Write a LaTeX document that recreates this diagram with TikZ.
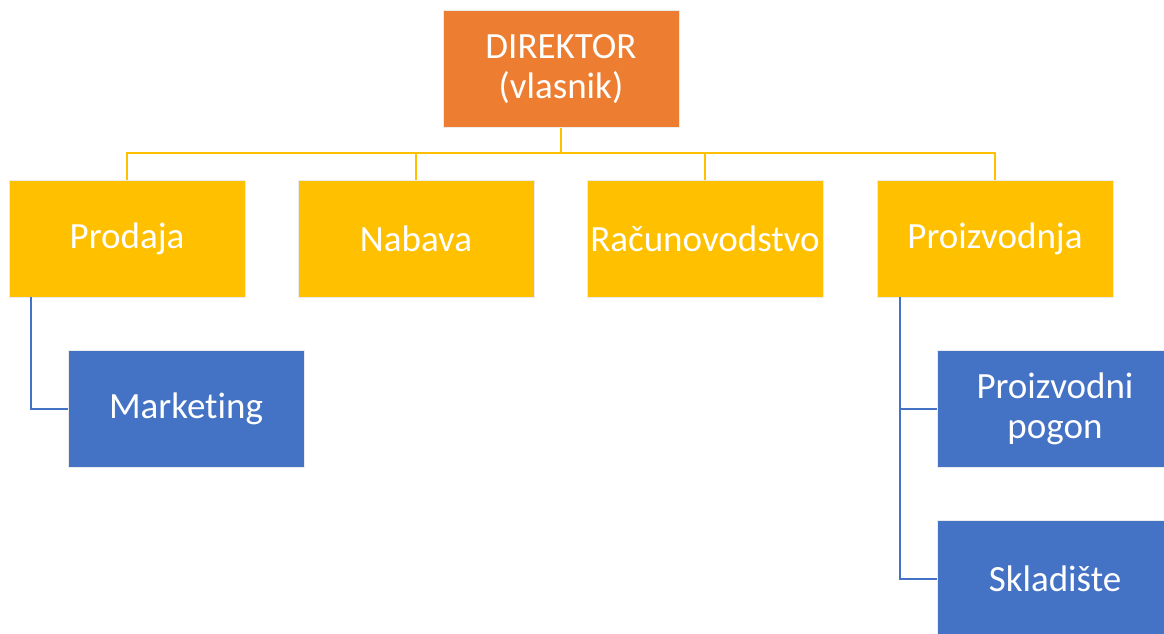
\documentclass[tikz,border=0pt]{standalone}
\usepackage{fontspec}
\setmainfont[Ligatures=NoCommon]{Carlito}
\definecolor{dirc}{HTML}{ED7D31}
\definecolor{yelc}{HTML}{FFC000}
\definecolor{bluc}{HTML}{4472C4}
\begin{document}
\begin{tikzpicture}[x=1pt,y=1pt,
  box/.style={draw=white!92!black, line width=0.8pt, minimum width=236pt, minimum height=117pt, inner sep=0pt, align=center, text=white, font=\fontsize{37}{40}\selectfont},
  dbox/.style={box, fill=dirc},
  ybox/.style={box, fill=yelc},
  bbox/.style={box, fill=bluc},
  yl/.style={draw=yelc, line width=2pt},
  bl/.style={draw=bluc, line width=2pt}]
\useasboundingbox (0,0) rectangle (1164,633);
\node[dbox] (dir) at (561,633-69) {DIREKTOR\\(vlasnik)};
\node[ybox] (pro) at (127,633-238.5) {Prodaja};
\node[ybox] (nab) at (416,633-238.5) {Nabava};
\node[ybox] (rac) at (705,633-238.5) {Računovodstvo};
\node[ybox] (prz) at (995,633-238.5) {Proizvodnja};
\node[bbox] (mar) at (186,633-408.5) {Marketing};
\node[bbox] (pog) at (1055,633-408.5) {Proizvodni\\pogon};
\node[bbox] (skl) at (1055,633-578.5) {Skladište};
\coordinate (hy) at (0,633-153);
\draw[yl] (dir.south) -- (dir.south |- hy);
\draw[yl] (pro.north) -- (pro.north |- hy) -- (prz.north |- hy) -- (prz.north);
\draw[yl] (nab.north) -- (nab.north |- hy);
\draw[yl] (rac.north) -- (rac.north |- hy);
\coordinate (pl) at ([xshift=-96pt]pro.south);
\draw[bl] (pl) |- (mar.west);
\coordinate (zl) at ([xshift=-95pt]prz.south);
\draw[bl] (zl) |- (skl.west);
\draw[bl] (zl |- pog.west) -- (pog.west);
\end{tikzpicture}
\end{document}
